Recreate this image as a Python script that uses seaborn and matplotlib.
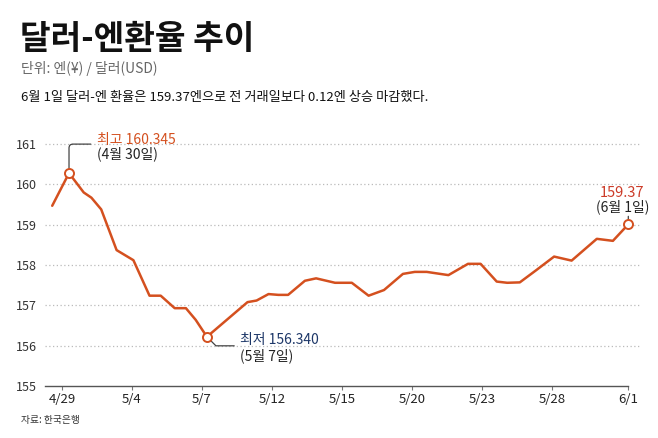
import pandas as pd
import matplotlib
matplotlib.use('Agg')
import matplotlib.pyplot as plt
import seaborn as sns

# 데이터
x_pos = [-0.14, 0.10, 0.31, 0.42, 0.56, 0.78, 1.02, 1.25, 1.41, 1.61, 1.77, 1.91, 2.07,
         2.65, 2.78, 2.95, 3.09, 3.23, 3.47, 3.63, 3.90, 4.14, 4.38, 4.60, 4.87, 5.04,
         5.21, 5.52, 5.80, 5.98, 6.21, 6.36, 6.54, 6.78, 7.03, 7.28, 7.64, 7.87, 8.09]
rate = [159.47, 160.28, 159.80, 159.67, 159.38, 158.37, 158.12, 157.24, 157.24, 156.93,
        156.93, 156.64, 156.22, 157.08, 157.12, 157.28, 157.26, 157.26, 157.61, 157.67,
        157.56, 157.56, 157.24, 157.38, 157.78, 157.83, 157.83, 157.75, 158.03, 158.03,
        157.59, 157.56, 157.57, 157.88, 158.21, 158.11, 158.65, 158.60, 159.01]
tick_pos = [0, 1, 2, 3, 4, 5, 6, 7, 8.09]
tick_labels = ['4/29', '5/4', '5/7', '5/12', '5/15', '5/20', '5/23', '5/28', '6/1']
y_ticks = [155, 156, 157, 158, 159, 160, 161]

peak_idx, low_idx, last_idx = 1, 12, len(rate) - 1

sns.set_theme(style='white')
plt.rcParams['font.family'] = ['Noto Sans CJK KR', 'DejaVu Sans']

ORANGE = '#D4501F'
RED = '#CC3B28'
NAVY = '#1D3768'

fig = plt.figure(figsize=(6.58, 4.38), dpi=100)
ax = fig.add_axes([45 / 658, 52 / 438, 595 / 658, 252 / 438])

df = pd.DataFrame({'x': x_pos, 'rate': rate})
for v in y_ticks[1:]:
    ax.axhline(v, color='#BBBBBB', lw=0.9, ls=(0, (1, 2)), zorder=0)

sns.lineplot(data=df, x='x', y='rate', color=ORANGE, linewidth=1.8, ax=ax, zorder=3)
hl = df.iloc[[peak_idx, low_idx, last_idx]]
ax.plot(hl['x'], hl['rate'], 'o', ms=6.5, mfc='white', mec=ORANGE, mew=1.4, zorder=5)

ax.set_xlim(-0.243, 8.257)
ax.set_ylim(155, 161.25)
ax.set_yticks(y_ticks)
ax.set_xticks(tick_pos, tick_labels)
ax.set_xlabel('')
ax.set_ylabel('')
for s in ['top', 'right', 'left']:
    ax.spines[s].set_visible(False)
ax.spines['bottom'].set_color('#555555')
ax.spines['bottom'].set_linewidth(1)
ax.spines['bottom'].set_bounds(-0.243, 8.09)
ax.tick_params(axis='y', length=0, pad=6, labelsize=9, labelcolor='#333333')
ax.tick_params(axis='x', bottom=True, length=3, width=0.8, color='#777777', pad=2,
               labelsize=9.5, labelcolor='#222222')

# 최고점
px, py = x_pos[peak_idx], rate[peak_idx]
ax.annotate('', xy=(px, py), xytext=(21.7, 29), textcoords='offset pixels',
            arrowprops=dict(arrowstyle='-', color='#444444', lw=0.9, shrinkA=0, shrinkB=3.5,
                            connectionstyle='angle,angleA=0,angleB=90,rad=4'))
ax.annotate('최고 160.345', xy=(px, py), xytext=(28, 33.3), textcoords='offset pixels',
            ha='left', va='center', color=ORANGE, fontsize=10)
ax.annotate('(4월 30일)', xy=(px, py), xytext=(28, 19), textcoords='offset pixels',
            ha='left', va='center', color='#222222', fontsize=10)

# 최저점
px, py = x_pos[low_idx], rate[low_idx]
ax.annotate('', xy=(px, py), xytext=(27.3, -9), textcoords='offset pixels',
            arrowprops=dict(arrowstyle='-', color='#444444', lw=0.9, shrinkA=0, shrinkB=3.5,
                            connectionstyle='angle,angleA=0,angleB=-45,rad=0'))
ax.annotate('최저 156.340', xy=(px, py), xytext=(33.3, -3.3), textcoords='offset pixels',
            ha='left', va='center', color=NAVY, fontsize=10)
ax.annotate('(5월 7일)', xy=(px, py), xytext=(33.3, -19.3), textcoords='offset pixels',
            ha='left', va='center', color='#222222', fontsize=10)

# 마지막 값
px, py = x_pos[last_idx], rate[last_idx]
ax.annotate('', xy=(px, py), xytext=(0, 8), textcoords='offset pixels',
            arrowprops=dict(arrowstyle='-', color='#444444', lw=0.9, shrinkA=0, shrinkB=3.5))
ax.annotate('159.37', xy=(px, py), xytext=(-6, 31.6), textcoords='offset pixels',
            ha='center', va='center', color=RED, fontsize=10.5)
ax.annotate('(6월 1일)', xy=(px, py), xytext=(-6, 17.6), textcoords='offset pixels',
            ha='center', va='center', color='#222222', fontsize=10)

# 제목 및 설명
fig.text(20 / 658, 1 - 40 / 438, '달러-엔환율 추이', fontsize=24, fontweight=900,
         color='#111111', ha='left', va='center')
fig.text(21 / 658, 1 - 68 / 438, '단위: 엔(¥) / 달러(USD)', fontsize=10, color='#666666',
         ha='left', va='center')
fig.text(21 / 658, 1 - 97 / 438, '6월 1일 달러-엔 환율은 159.37엔으로 전 거래일보다 0.12엔 상승 마감했다.',
         fontsize=9.5, color='#111111', ha='left', va='center')
fig.text(21 / 658, 1 - 420 / 438, '자료: 한국은행', fontsize=7, color='#333333',
         ha='left', va='center')

fig.savefig('out.png', dpi=100)
